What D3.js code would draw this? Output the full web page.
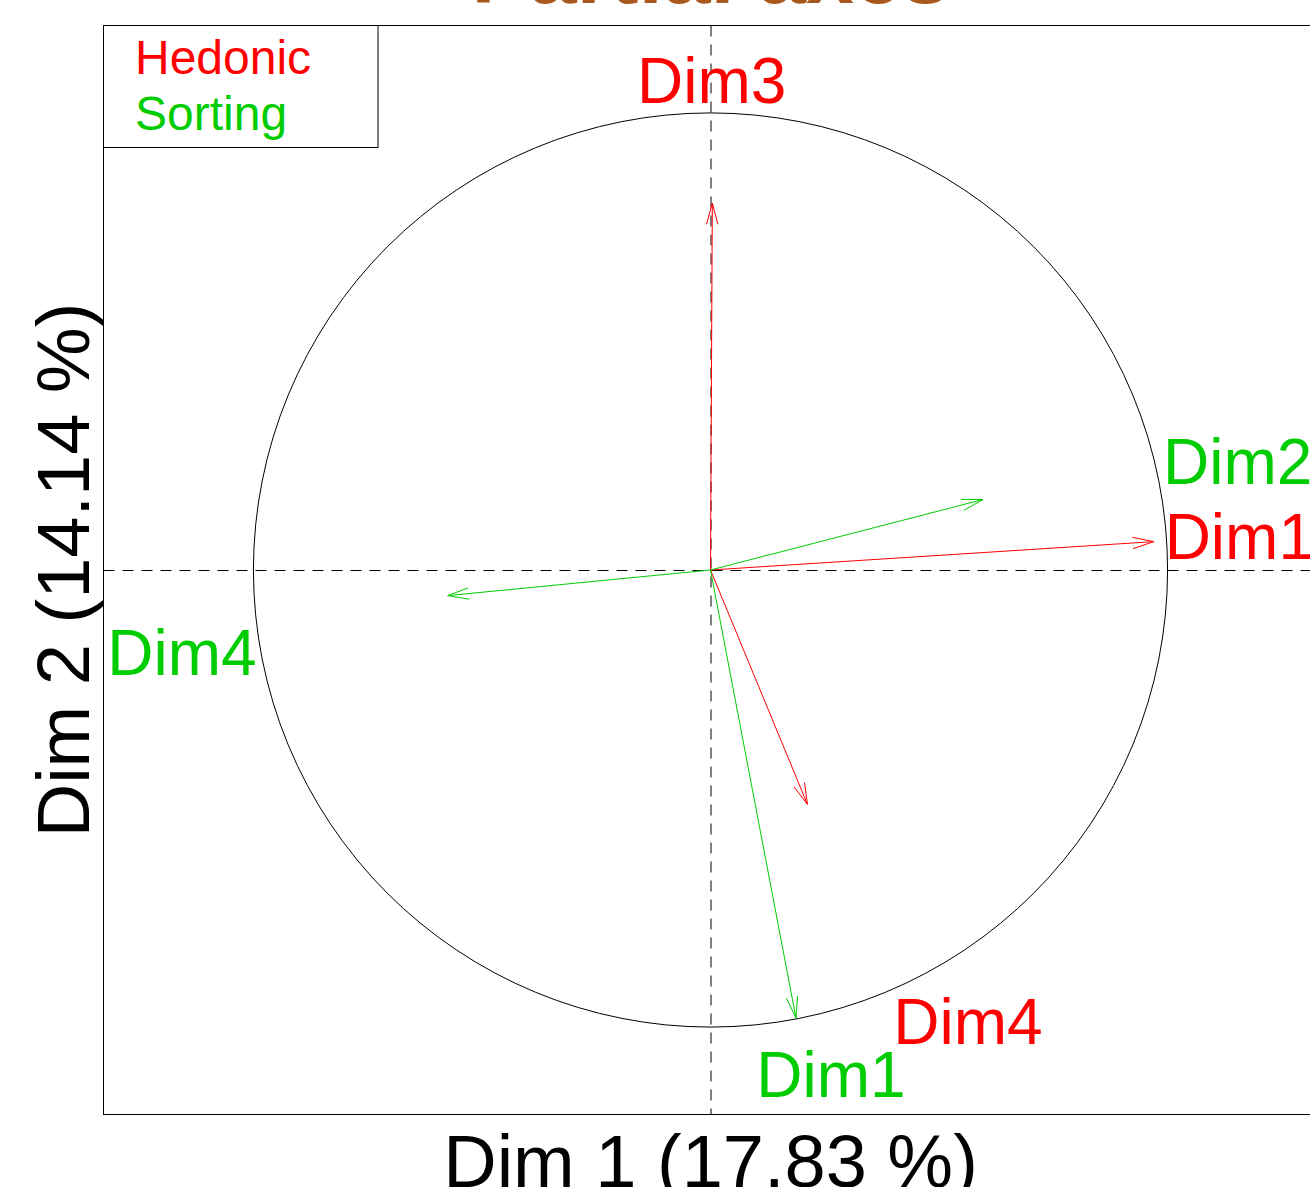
<!DOCTYPE html>
<html>
<head>
<meta charset="utf-8">
<script src="https://cdn.jsdelivr.net/npm/d3@7"></script>
<style>
  html, body { margin: 0; padding: 0; background: #ffffff; }
  svg { display: block; font-family: "Liberation Sans", Arial, Helvetica, sans-serif; }
</style>
</head>
<body>
<svg id="chart" width="1310" height="1187"></svg>
<script>
// Partial axes of an MFA: coordinates of each group's own axes on the global plane
const groups = ["Hedonic", "Sorting"];
const axisLabel = ["Dim1", "Dim3", "Dim4", "Dim1", "Dim2", "Dim4"];
const axisGroup = ["Hedonic", "Hedonic", "Hedonic", "Sorting", "Sorting", "Sorting"];
const coordDim1 = [0.970, 0.004, 0.212, 0.187, 0.596, -0.575];
const coordDim2 = [0.062, 0.802, -0.512, -0.979, 0.154, -0.056];

const xTitle = "Dim 1 (17.83 %)";
const yTitle = "Dim 2 (14.14 %)";
const mainTitle = "Partial axes";

// styling
const groupColor = { Hedonic: "#ff0000", Sorting: "#00cd00" };
// label placement relative to the arrow's direction on the unit circle (px)
const labelNudge = [
  { dx: -2, dy: 18, anchor: "start" },
  { dx: -1, dy: -9, anchor: "middle" },
  { dx: 8, dy: 51, anchor: "start" },
  { dx: -40, dy: 78, anchor: "start" },
  { dx: 10, dy: 28, anchor: "start" },
  { dx: 1, dy: 61, anchor: "end" }
];

const svg = d3.select("#chart");

const x = d3.scaleLinear().domain([-1.328, 1.328]).range([103.5, 1317.5]);
const y = d3.scaleLinear().domain([-1.19, 1.19]).range([1114.5, 25.5]);
const unit = x(1) - x(0);

const rows = axisLabel.map((lab, i) => ({
  label: lab, group: axisGroup[i], cx: coordDim1[i], cy: coordDim2[i], nudge: labelNudge[i]
}));

// clip to plot region
svg.append("defs").append("clipPath").attr("id", "plotclip")
  .append("rect")
  .attr("x", x.range()[0]).attr("y", y.range()[1])
  .attr("width", x.range()[1] - x.range()[0])
  .attr("height", y.range()[0] - y.range()[1]);

const plot = svg.append("g").attr("clip-path", "url(#plotclip)");

// reference lines through the origin
plot.append("line")
  .attr("x1", x.range()[0]).attr("x2", x.range()[1])
  .attr("y1", Math.floor(y(0)) + 0.5).attr("y2", Math.floor(y(0)) + 0.5)
  .attr("stroke", "#000").attr("stroke-width", 1)
  .attr("stroke-dasharray", "11,8");
plot.append("line")
  .attr("x1", Math.round(x(0))).attr("x2", Math.round(x(0)))
  .attr("y1", y.range()[1]).attr("y2", y.range()[0])
  .attr("stroke", "#000").attr("stroke-width", 1)
  .attr("stroke-dasharray", "11,8");

// correlation circle
plot.append("circle")
  .attr("cx", x(0)).attr("cy", y(0))
  .attr("r", unit)
  .attr("fill", "none").attr("stroke", "#000").attr("stroke-width", 1);

// arrows
const headLen = 22, headAng = 15 * Math.PI / 180;
const arrows = plot.selectAll("g.arrow").data(rows).join("g").attr("class", "arrow");
arrows.append("line")
  .attr("x1", x(0)).attr("y1", y(0))
  .attr("x2", d => x(d.cx)).attr("y2", d => y(d.cy))
  .attr("stroke", d => groupColor[d.group]).attr("stroke-width", 1);
arrows.append("path")
  .attr("d", d => {
    const tx = x(d.cx), ty = y(d.cy);
    const a = Math.atan2(ty - y(0), tx - x(0));
    const p1 = [tx - headLen * Math.cos(a - headAng), ty - headLen * Math.sin(a - headAng)];
    const p2 = [tx - headLen * Math.cos(a + headAng), ty - headLen * Math.sin(a + headAng)];
    return `M${p1[0]},${p1[1]}L${tx},${ty}L${p2[0]},${p2[1]}`;
  })
  .attr("fill", "none")
  .attr("stroke", d => groupColor[d.group]).attr("stroke-width", 1);

// axis labels at the direction of each arrow on the circle
svg.selectAll("text.axlab").data(rows).join("text")
  .attr("class", "axlab")
  .attr("x", d => {
    const n = Math.hypot(d.cx, d.cy);
    return x(d.cx / n) + d.nudge.dx;
  })
  .attr("y", d => {
    const n = Math.hypot(d.cx, d.cy);
    return y(d.cy / n) + d.nudge.dy;
  })
  .attr("text-anchor", d => d.nudge.anchor)
  .attr("font-size", 64)
  .attr("fill", d => groupColor[d.group])
  .text(d => d.label);

// plot frame
svg.append("rect")
  .attr("x", x.range()[0]).attr("y", y.range()[1])
  .attr("width", x.range()[1] - x.range()[0])
  .attr("height", y.range()[0] - y.range()[1])
  .attr("fill", "none").attr("stroke", "#000").attr("stroke-width", 1);

// legend
const leg = svg.append("g");
leg.append("rect")
  .attr("x", 103.5).attr("y", 25.5).attr("width", 274.5).attr("height", 122)
  .attr("fill", "#fff").attr("stroke", "#000").attr("stroke-width", 1);
leg.selectAll("text").data(groups).join("text")
  .attr("x", 135)
  .attr("y", (d, i) => 74 + i * 56)
  .attr("font-size", 48)
  .attr("fill", d => groupColor[d])
  .text(d => d);

// titles
svg.append("text")
  .attr("x", x(0)).attr("y", 1187)
  .attr("text-anchor", "middle").attr("font-size", 74).attr("fill", "#000")
  .text(xTitle);
svg.append("text")
  .attr("transform", `translate(89,${(y.range()[0] + y.range()[1]) / 2}) rotate(-90)`)
  .attr("text-anchor", "middle").attr("font-size", 74).attr("fill", "#000")
  .text(yTitle);
svg.append("text")
  .attr("x", x(0)).attr("y", 3)
  .attr("text-anchor", "middle").attr("font-size", 86).attr("font-weight", "bold")
  .attr("fill", "#a8581c")
  .text(mainTitle);
</script>
</body>
</html>
